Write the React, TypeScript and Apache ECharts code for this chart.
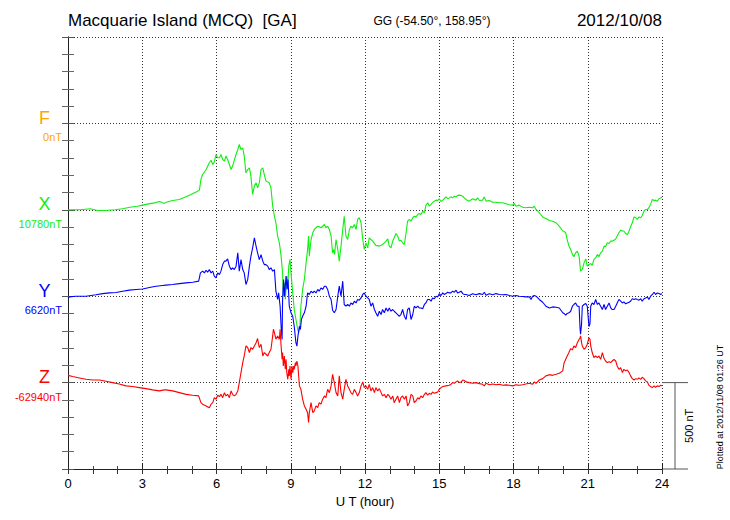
import React, { useEffect, useRef } from "react";
import * as echarts from "echarts";

// Component labels, baselines and colours
const compNames = ["F", "X", "Y", "Z"];
const compBaseLabels = ["0nT", "10780nT", "6620nT", "-62940nT"];
const compColors = ["#ffa500", "#11ee11", "#0000ff", "#ff0000"];
// position of each component's baseline on the shared nT scale (0..2500)
const compOffsets = [2000, 1500, 1000, 500];
const hourTicks = [0, 3, 6, 9, 12, 15, 18, 21, 24];

// X component: hours (UT) and deviation from 10780 nT
const xHours = [0, 0.5, 0.9, 1.2, 1.5, 1.9, 2.2, 2.5, 2.8, 3.0, 3.2, 3.5, 3.7, 3.9,
  3.96, 4.23, 4.5, 4.77, 4.97, 5.24, 5.31, 5.37, 5.44, 5.58, 5.71, 5.78, 5.85, 5.91, 5.98, 6.05, 6.12, 6.18, 6.25, 6.32, 6.38, 6.45, 6.59, 6.65, 6.79, 6.86, 6.92, 6.99, 7.06, 7.12, 7.19, 7.26, 7.33, 7.39, 7.46, 7.53, 7.6, 7.66, 7.73, 7.8, 7.87, 7.93,
  8.0, 8.13, 8.2, 8.27, 8.34, 8.4, 8.47, 8.54, 8.61, 8.67, 8.7, 8.74, 8.78, 8.84, 8.88, 8.92, 8.97, 9.01, 9.08, 9.14, 9.21, 9.28, 9.32, 9.37, 9.41, 9.48, 9.55, 9.62, 9.68, 9.72, 9.75, 9.82, 9.89, 9.95, 10.02, 10.09, 10.15, 10.22, 10.29, 10.36, 10.42, 10.49, 10.56, 10.63, 10.69, 10.73, 10.77, 10.83, 10.9, 10.96, 11.03, 11.1, 11.16, 11.23, 11.3, 11.37, 11.43, 11.5, 11.57, 11.64, 11.7, 11.77, 11.84, 11.91, 11.97,
  12.04, 12.11, 12.17, 12.24, 12.31, 12.44, 12.58, 12.71, 12.85, 12.92, 12.98, 13.05, 13.12, 13.18, 13.25, 13.32, 13.39, 13.45, 13.52, 13.59, 13.66, 13.72, 13.79, 13.86, 13.93, 13.99, 14.06, 14.13, 14.19, 14.26, 14.33, 14.4, 14.46, 14.53, 14.6, 14.67, 14.73, 14.8, 14.87, 14.94, 15.0, 15.07, 15.14, 15.2, 15.27, 15.34, 15.41, 15.47, 15.54, 15.61, 15.68, 15.74, 15.81, 15.88, 15.95, 16.01,
  16.08, 16.21, 16.35, 16.48, 16.55, 16.62, 16.75, 16.82, 16.89, 17.02, 17.16, 17.29, 17.43, 17.56, 17.7, 17.83, 17.97, 18.03, 18.1, 18.23, 18.37, 18.5, 18.64, 18.77, 18.84, 18.91, 19.04, 19.18, 19.31, 19.45, 19.58, 19.72, 19.85, 19.99,
  20.04, 20.11, 20.17, 20.24, 20.31, 20.38, 20.44, 20.51, 20.58, 20.65, 20.71, 20.78, 20.85, 20.92, 20.98, 21.05, 21.12, 21.18, 21.25, 21.32, 21.39, 21.45, 21.52, 21.59, 21.66, 21.72, 21.79, 21.86, 21.93, 21.99, 22.06, 22.13, 22.19, 22.26, 22.33, 22.4, 22.46, 22.53, 22.6, 22.67, 22.73, 22.8, 22.87, 22.94, 23.0, 23.07, 23.14, 23.2, 23.27, 23.34, 23.41, 23.47, 23.54, 23.61, 23.68, 23.74, 23.81, 23.88, 23.95, 24.0];
const xDev = [0, 0, 6, -4, -4, 0, 6, 15, 21, 27, 33, 40, 48, 37,
  44, 54, 60, 75, 89, 108, 114, 176, 204, 233, 272, 287, 262, 276, 320, 301, 301, 320, 291, 282, 311, 291, 233, 253, 320, 349, 378, 349, 359, 311, 214, 233, 243, 195, 89, 137, 156, 127, 156, 233, 243, 204,
  166, 156, 127, 21, -37, -75, -152, -191, -268, -365, -500, -422, -519, -384, -442, -326, -287, -365, -480, -577, -635, -692, -712, -673, -557, -461, -403, -307, -230, -152, -268, -172, -133, -114, -104, -95, -98, -104, -95, -85, -104, -95, -114, -152, -249, -230, -258, -172, -230, -297, -210, -114, -37, -152, -172, -114, -95, -104, -85, -114, -56, -46, -75, -172, -230,
  -191, -220, -162, -172, -181, -206, -210, -201, -181, -168, -210, -220, -181, -162, -137, -152, -181, -176, -191, -201, -133, -66, -56, -66, -46, -37, -41, -27, -21, -27, -8, -17, 25, 41, 21, 31, 41, 50, 56, 54, 64, 48, 56, 64, 75, 64, 69, 75, 69, 79, 75, 83, 85, 83, 79, 69,
  60, 50, 64, 56, 69, 54, 56, 75, 50, 54, 44, 44, 41, 41, 35, 29, 27, 37, 21, 27, 15, 12, 15, 12, 21, 2, -17, -41, -50, -62, -66, -75, -95, -123,
  -125, -133, -172, -210, -230, -258, -272, -249, -239, -268, -355, -345, -307, -284, -326, -316, -311, -322, -287, -278, -258, -272, -249, -239, -210, -214, -191, -195, -181, -181, -176, -168, -152, -133, -118, -123, -123, -137, -143, -123, -98, -75, -41, -46, -56, -41, -46, -33, -8, 2, 2, 12, 31, 60, 54, 56, 50, 64, 69, 75];

// Y component: hours (UT) and deviation from 6620 nT
const yHours = [0, 0.05, 0.32, 0.73, 1.13, 1.4, 1.67, 1.94, 2.21, 2.48, 2.75, 3.02, 3.29, 3.56, 3.82,
  3.96, 4.23, 4.5, 4.77, 5.04, 5.28, 5.35, 5.44, 5.51, 5.58, 5.64, 5.71, 5.78, 5.85, 5.91, 5.98, 6.05, 6.12, 6.18, 6.25, 6.32, 6.38, 6.45, 6.52, 6.59, 6.65, 6.72, 6.79, 6.86, 6.92, 6.99, 7.06, 7.12, 7.19, 7.26, 7.33, 7.39, 7.46, 7.53, 7.6, 7.66, 7.73, 7.8, 7.87, 7.93,
  8.0, 8.07, 8.13, 8.2, 8.27, 8.34, 8.4, 8.47, 8.51, 8.57, 8.61, 8.65, 8.67, 8.71, 8.75, 8.81, 8.85, 8.89, 8.94, 9.01, 9.08, 9.14, 9.21, 9.25, 9.29, 9.35, 9.39, 9.43, 9.48, 9.55, 9.62, 9.68, 9.75, 9.82, 9.89, 9.95, 10.02, 10.09, 10.15, 10.22, 10.29, 10.36, 10.42, 10.49, 10.56, 10.63, 10.69, 10.76, 10.83, 10.9, 10.96, 11.03, 11.1, 11.16, 11.23, 11.3, 11.37, 11.43, 11.5, 11.57, 11.64, 11.7, 11.77, 11.84, 11.91, 11.97,
  12.04, 12.17, 12.24, 12.31, 12.38, 12.44, 12.51, 12.58, 12.65, 12.71, 12.78, 12.85, 12.92, 12.98, 13.05, 13.12, 13.18, 13.25, 13.32, 13.39, 13.45, 13.52, 13.59, 13.66, 13.72, 13.79, 13.86, 13.93, 13.99, 14.06, 14.13, 14.19, 14.26, 14.33, 14.4, 14.46, 14.53, 14.6, 14.67, 14.73, 14.8, 14.87, 14.94, 15.0, 15.07, 15.14, 15.2, 15.27, 15.34, 15.41, 15.47, 15.54, 15.61, 15.68, 15.74, 15.81, 15.88, 15.95, 16.01,
  16.08, 16.21, 16.35, 16.48, 16.62, 16.75, 16.82, 16.89, 17.02, 17.16, 17.29, 17.43, 17.56, 17.7, 17.83, 17.97, 18.1, 18.23, 18.37, 18.5, 18.64, 18.71, 18.77, 18.84, 18.91, 19.04, 19.18, 19.31, 19.45, 19.58, 19.72, 19.85, 19.99,
  20.04, 20.11, 20.17, 20.24, 20.31, 20.38, 20.44, 20.51, 20.58, 20.65, 20.69, 20.71, 20.75, 20.78, 20.85, 20.92, 20.98, 21.05, 21.09, 21.12, 21.18, 21.25, 21.32, 21.39, 21.45, 21.52, 21.59, 21.66, 21.72, 21.79, 21.86, 21.93, 21.99, 22.06, 22.13, 22.19, 22.26, 22.33, 22.4, 22.46, 22.53, 22.6, 22.67, 22.73, 22.8, 22.87, 22.94, 23.0, 23.07, 23.14, 23.2, 23.27, 23.34, 23.41, 23.47, 23.54, 23.61, 23.68, 23.74, 23.81, 23.88, 23.95, 24.0];
const yDev = [-12, -4, 0, 0, 8, 15, 19, 21, 29, 35, 39, 42, 50, 58, 62,
  64, 68, 73, 77, 81, 87, 135, 145, 135, 150, 139, 154, 135, 145, 116, 106, 135, 125, 145, 183, 203, 203, 216, 174, 154, 164, 154, 174, 251, 145, 212, 154, 135, 68, 96, 174, 231, 280, 338, 289, 251, 212, 241, 203, 183,
  183, 174, 154, 164, 145, 154, 29, -19, 19, -58, -174, -251, -19, 96, 0, 116, 39, 96, -58, -96, -116, -174, -270, -289, -231, -174, -193, -135, -116, -96, -58, 19, 10, 29, 19, 29, 19, 39, 29, 48, 39, 58, 58, 39, 0, -19, -81, -96, -77, 0, 58, 0, 87, -48, -58, -48, -58, -39, -48, -29, -39, -19, -23, -10, 10, 19,
  0, -19, -58, -39, -77, -96, -116, -87, -106, -77, -96, -68, -87, -68, -87, -77, -87, -96, -106, -116, -106, -77, -116, -135, -77, -68, -135, -106, -58, -68, -58, -68, -68, -73, -48, -39, -19, -19, -29, -10, -15, 0, -4, 15, 4, 19, 10, 15, 23, 19, 19, 29, 23, 35, 19, 23, 29, 15, 10,
  10, 4, 14, 8, 15, 10, 23, 6, 14, 8, 15, 10, 8, 10, 4, 0, 4, 0, -2, -4, -4, -19, 0, 4, 0, -19, -35, -58, -68, -62, -64, -68, -96,
  -100, -110, -100, -96, -87, -58, -48, -39, -58, -58, -190, -220, -160, -58, -48, -42, -58, -175, -160, -58, -39, -48, -19, -48, -39, -58, -77, -48, -77, -58, -39, -68, -77, -77, -58, -39, -19, -29, -39, -33, -44, -39, -35, -29, -15, -19, -15, -19, -23, -15, -29, -15, -10, -4, -19, 0, 10, 23, 10, 19, 15, 10, 15];

// Z component: hours (UT) and deviation from -62940 nT
const zHours = [0, 0.19, 0.46, 0.73, 1.0, 1.27, 1.54, 1.8, 2.07, 2.34, 2.61, 2.88, 3.15, 3.42, 3.69, 3.89,
  3.96, 4.23, 4.5, 4.77, 5.04, 5.28, 5.37, 5.44, 5.58, 5.71, 5.78, 5.85, 5.91, 5.98, 6.05, 6.12, 6.18, 6.25, 6.32, 6.38, 6.45, 6.52, 6.59, 6.65, 6.72, 6.79, 6.86, 6.92, 6.99, 7.06, 7.12, 7.19, 7.26, 7.33, 7.39, 7.46, 7.53, 7.6, 7.66, 7.73, 7.8, 7.87, 7.93,
  8.0, 8.07, 8.13, 8.2, 8.27, 8.3, 8.34, 8.4, 8.47, 8.54, 8.57, 8.61, 8.65, 8.67, 8.7, 8.74, 8.78, 8.81, 8.84, 8.88, 8.92, 8.94, 8.97, 9.01, 9.05, 9.08, 9.12, 9.14, 9.19, 9.21, 9.25, 9.29, 9.35, 9.41, 9.48, 9.55, 9.62, 9.68, 9.72, 9.75, 9.82, 9.89, 9.95, 10.02, 10.09, 10.15, 10.22, 10.29, 10.36, 10.42, 10.49, 10.56, 10.63, 10.69, 10.76, 10.83, 10.9, 10.96, 11.03, 11.1, 11.16, 11.23, 11.3, 11.37, 11.43, 11.5, 11.57, 11.64, 11.7, 11.77, 11.84, 11.91, 11.97,
  12.04, 12.11, 12.17, 12.24, 12.31, 12.38, 12.44, 12.51, 12.58, 12.65, 12.71, 12.78, 12.85, 12.92, 12.98, 13.05, 13.12, 13.18, 13.25, 13.32, 13.39, 13.45, 13.52, 13.59, 13.66, 13.72, 13.79, 13.86, 13.93, 13.99, 14.06, 14.13, 14.19, 14.26, 14.33, 14.4, 14.46, 14.53, 14.6, 14.67, 14.73, 14.8, 14.87, 14.94, 15.0, 15.07, 15.14, 15.27, 15.41, 15.47, 15.54, 15.61, 15.68, 15.74, 15.81, 15.88, 15.95, 16.01,
  16.08, 16.21, 16.35, 16.48, 16.62, 16.75, 16.82, 16.89, 17.02, 17.16, 17.29, 17.43, 17.56, 17.7, 17.83, 17.97, 18.1, 18.23, 18.37, 18.5, 18.64, 18.77, 18.84, 18.91, 19.04, 19.18, 19.31, 19.45, 19.58, 19.72, 19.85, 19.99,
  20.04, 20.11, 20.17, 20.24, 20.31, 20.38, 20.44, 20.51, 20.58, 20.65, 20.69, 20.71, 20.75, 20.78, 20.85, 20.92, 20.98, 21.05, 21.09, 21.12, 21.18, 21.25, 21.32, 21.39, 21.45, 21.52, 21.59, 21.66, 21.72, 21.79, 21.86, 21.93, 21.99, 22.06, 22.13, 22.19, 22.26, 22.33, 22.4, 22.46, 22.53, 22.6, 22.67, 22.73, 22.8, 22.87, 22.94, 23.0, 23.07, 23.14, 23.2, 23.27, 23.34, 23.41, 23.47, 23.54, 23.61, 23.68, 23.74, 23.81, 23.88, 23.95, 24.0];
const zDev = [42, 35, 27, 19, 15, 15, 8, 0, -8, -19, -23, -29, -35, -42, -48, -42,
  -42, -48, -58, -68, -73, -77, -116, -125, -135, -145, -125, -116, -87, -96, -73, -81, -68, -87, -58, -77, -68, -87, -48, -68, -77, -68, -48, 0, 58, 116, 154, 212, 203, 174, 203, 193, 212, 231, 255, 203, 222, 154, 174,
  164, 154, 174, 193, 270, 309, 289, 251, 270, 251, 309, 212, 135, 174, 96, 154, 77, 135, 58, 19, 77, 39, 96, 19, 96, 58, 96, 77, 116, 96, 125, 96, -19, -39, -96, -135, -154, -174, -231, -174, -116, -174, -164, -135, -145, -116, -125, -96, -77, -87, -39, -58, -19, 48, 0, -58, -77, 39, -58, -96, -39, 19, -19, -39, -58, -68, -39, -58, -77, -58, -19, 4, -29,
  -19, -39, -10, -48, -29, -58, -29, -48, -35, -58, -77, -68, -87, -68, -77, -96, -77, -116, -96, -77, -116, -87, -77, -96, -77, -135, -116, -68, -77, -116, -106, -87, -96, -77, -87, -68, -58, -73, -62, -68, -54, -62, -58, -54, -39, -29, -23, -19, -15, -10, 0, -4, 4, 10, 0, 4, 15, 12,
  4, 0, -4, 0, -6, -10, -19, -4, -12, -8, -12, -10, -15, -13, -15, -19, -13, -15, -12, -8, -4, -10, 4, -4, 15, 23, 39, 46, 42, 48, 54, 68,
  112, 135, 154, 174, 197, 189, 212, 203, 231, 251, 260, 270, 231, 212, 193, 203, 222, 260, 251, 212, 174, 145, 154, 145, 154, 135, 174, 139, 125, 116, 120, 116, 125, 135, 125, 96, 77, 87, 58, 77, 68, 73, 58, 39, 23, 15, 23, 19, 27, 19, 31, 23, 10, 4, -15, -23, -29, -19, -27, -19, -23, -15, -19];

const FONT = "'Liberation Sans', Arial, Helvetica, sans-serif";

export default function App() {
  const ref = useRef<HTMLDivElement>(null);

  useEffect(() => {
    if (!ref.current) return;
    const chart = echarts.init(ref.current, null, { renderer: "svg" });

    const seriesDefs = [
      { hours: xHours, dev: xDev, idx: 1 },
      { hours: yHours, dev: yDev, idx: 2 },
      { hours: zHours, dev: zDev, idx: 3 },
    ];

    const dotted = { color: "#333", width: 1, type: [1, 2] as any };
    const axisLineStyle = { lineStyle: { color: "#222", width: 1 } };

    chart.setOption({
      animation: false,
      backgroundColor: "#fff",
      textStyle: { fontFamily: FONT },
      grid: { left: 68, top: 37, width: 594, height: 432, containLabel: false },
      xAxis: [
        {
          type: "value", position: "bottom", min: 0, max: 24, interval: 3,
          axisLine: axisLineStyle,
          axisTick: { inside: true, length: 6, lineStyle: { color: "#222" } },
          minorTick: { show: true, splitNumber: 3, length: 3, lineStyle: { color: "#444" } },
          axisLabel: { fontSize: 13, color: "#000", margin: 8, fontFamily: FONT,
            formatter: (v: number) => (hourTicks.includes(v) ? String(v) : "") },
          splitLine: { show: true, lineStyle: dotted },
          name: "U T (hour)", nameLocation: "middle", nameGap: 23,
          nameTextStyle: { fontSize: 13, color: "#000", fontFamily: FONT },
        },
        {
          type: "value", position: "top", min: 0, max: 24, interval: 3,
          axisLine: axisLineStyle,
          axisTick: { inside: true, length: 5, lineStyle: { color: "#333" } },
          minorTick: { show: true, splitNumber: 3, length: 5, lineStyle: { color: "#333" } },
          axisLabel: { show: false }, splitLine: { show: false },
        },
      ],
      yAxis: [
        {
          type: "value", position: "left", min: 0, max: 2500, interval: 500,
          axisLine: axisLineStyle,
          axisTick: { inside: true, length: 6, lineStyle: { color: "#555" } },
          minorTick: { show: true, splitNumber: 5, length: 6, lineStyle: { color: "#666" } },
          axisLabel: { show: false },
          splitLine: { show: true, lineStyle: dotted },
        },
        {
          type: "value", position: "right", min: 0, max: 2500, interval: 500,
          axisLine: axisLineStyle,
          axisTick: { inside: true, length: 6, lineStyle: { color: "#555" } },
          minorTick: { show: true, splitNumber: 5, length: 6, lineStyle: { color: "#666" } },
          axisLabel: { show: false }, splitLine: { show: false },
        },
      ],
      series: seriesDefs.map((s) => ({
        type: "line",
        xAxisIndex: 0, yAxisIndex: 0,
        showSymbol: false, symbol: "none",
        clip: true,
        lineStyle: { color: compColors[s.idx], width: 1.1 },
        data: s.hours.map((h, i) => [h, compOffsets[s.idx] + s.dev[i]]),
      })),
    });

    const px = (h: number, v: number) =>
      chart.convertToPixel({ xAxisIndex: 0, yAxisIndex: 0 }, [h, v]) as number[];

    const graphics: any[] = [];
    compNames.forEach((name, i) => {
      const y = px(0, compOffsets[i])[1];
      graphics.push({
        type: "text", x: 44.5, y: y - 5.5,
        style: { text: name, fill: compColors[i], font: `18px ${FONT}`, align: "center", verticalAlign: "middle" },
      });
      graphics.push({
        type: "text", x: 62, y: y + 14,
        style: { text: compBaseLabels[i], fill: compColors[i], font: `11px ${FONT}`, align: "right", verticalAlign: "middle" },
      });
    });

    // scale bar (500 nT) from Z baseline down to the bottom of the plot
    const right = px(24, 0)[0];
    const top = px(24, compOffsets[3])[1];
    const bottom = px(24, compOffsets[3] - 500)[1];
    const barStyle = { stroke: "#555", lineWidth: 1 };
    graphics.push({ type: "line", shape: { x1: right, y1: top, x2: right + 26, y2: top }, style: barStyle });
    graphics.push({ type: "line", shape: { x1: right, y1: bottom, x2: right + 26, y2: bottom }, style: barStyle });
    graphics.push({ type: "line", shape: { x1: right + 13, y1: top, x2: right + 13, y2: bottom }, style: barStyle });
    graphics.push({
      type: "text", x: right + 27, y: (top + bottom) / 2, rotation: Math.PI / 2,
      style: { text: "500 nT", fill: "#000", font: `11px ${FONT}`, align: "center", verticalAlign: "middle" },
    });

    // titles
    graphics.push({
      type: "text", x: 68, y: 20,
      style: { text: "Macquarie Island (MCQ)  [GA]", fill: "#000", font: `17px ${FONT}`, align: "left", verticalAlign: "middle" },
    });
    graphics.push({
      type: "text", x: 432, y: 21,
      style: { text: "GG (-54.50°, 158.95°)", fill: "#000", font: `12px ${FONT}`, align: "center", verticalAlign: "middle" },
    });
    graphics.push({
      type: "text", x: 662, y: 20,
      style: { text: "2012/10/08", fill: "#000", font: `17px ${FONT}`, align: "right", verticalAlign: "middle" },
    });
    graphics.push({
      type: "text", x: 720, y: 407, rotation: Math.PI / 2,
      style: { text: "Plotted at 2012/11/08 01:26 UT", fill: "#000", font: `9px ${FONT}`, align: "center", verticalAlign: "middle" },
    });

    chart.setOption({ graphic: graphics });

    return () => chart.dispose();
  }, []);

  return (
    <div
      ref={ref}
      style={{ position: "fixed", left: 0, top: 0, width: 730, height: 520, background: "#fff" }}
    />
  );
}
